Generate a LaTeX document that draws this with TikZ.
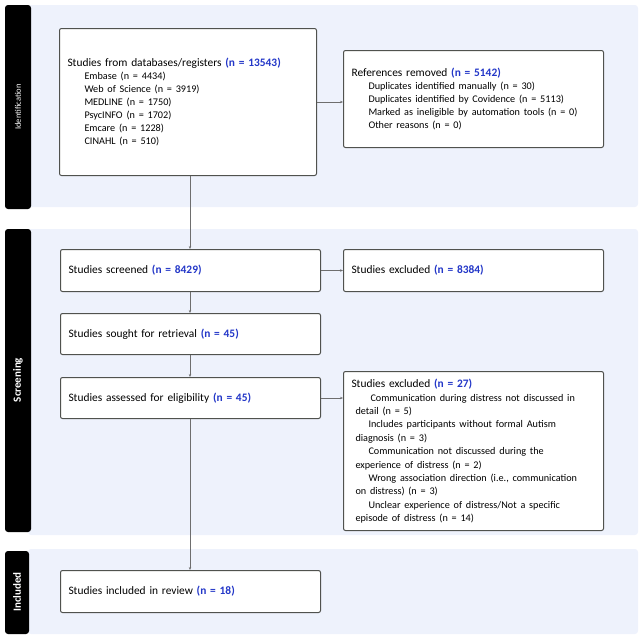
\documentclass[tikz,border=0pt]{standalone}
\usepackage{fontspec}
\setmainfont{Carlito}
\usepackage{tikz}
\usetikzlibrary{arrows.meta,positioning}
\definecolor{prisblue}{RGB}{35,55,200}
\definecolor{panelbg}{RGB}{238,242,252}
\definecolor{boxline}{RGB}{80,82,78}
\definecolor{linkgray}{RGB}{110,110,110}
\newcommand{\cnt}[1]{\textcolor{prisblue}{\textbf{(n = #1)}}}
\newcommand{\ind}{\hspace*{17pt}}
\newcommand{\subitems}{\fontsize{10.2}{13}\selectfont}

\begin{document}
\begin{tikzpicture}[x=1pt,y=-1pt,>={Stealth[length=3pt,width=2.4pt]},
  every node/.style={font=\fontsize{11.4}{13}\selectfont},
  panel/.style={fill=panelbg,rounded corners=3pt},
  bar/.style={fill=black,rounded corners=3pt},
  barlabel/.style={text=white,rotate=90},
  box/.style={draw=boxline,line width=1pt,fill=white,rounded corners=2pt,anchor=north west,align=left,inner xsep=8pt},
  link/.style={draw=linkgray,line width=0.8pt,->}]
\useasboundingbox (0,0) rectangle (644,637);
% phase panels
\fill[panel] (28,5) rectangle (638,207);
\fill[panel] (28,229) rectangle (638,535);
\fill[panel] (28,549) rectangle (638,634);
\fill[bar] (5,5) rectangle (31,209);
\fill[bar] (5,229) rectangle (31,532);
\fill[bar] (5,551) rectangle (29,634);
\node[barlabel,font=\fontsize{8.5}{9}\selectfont] (idlab) at (18,107) {Identification};
\node[barlabel,font=\fontsize{11}{12}\selectfont\bfseries] (scrlab) at (18,380) {Screening};
\node[barlabel,font=\fontsize{11}{12}\selectfont\bfseries] (inclab) at (17,592) {Included};
% boxes
\node[box,text width=241pt,minimum height=147pt] (db) at (59,28) {Studies from databases/registers \cnt{13543}\\
\subitems\ind Embase (n = 4434)\\
\ind Web of Science (n = 3919)\\
\ind MEDLINE (n = 1750)\\
\ind PsycINFO (n = 1702)\\
\ind Emcare (n = 1228)\\
\ind CINAHL (n = 510)};
\node[box,text width=244pt,minimum height=97pt] (removed) at (343,50) {References removed \cnt{5142}\\
\subitems\ind Duplicates identified manually (n = 30)\\
\ind Duplicates identified by Covidence (n = 5113)\\
\ind Marked as ineligible by automation tools (n = 0)\\
\ind Other reasons (n = 0)};
\node[box,text width=244pt,minimum height=42pt] (screened) at (60,249) {Studies screened \cnt{8429}};
\node[box,text width=244pt,minimum height=42pt] (excl1) at (343,249) {Studies excluded \cnt{8384}};
\node[box,text width=244pt,minimum height=41pt] (sought) at (60,313) {Studies sought for retrieval \cnt{45}};
\node[box,text width=244pt,minimum height=41pt] (assessed) at (60,377) {Studies assessed for eligibility \cnt{45}};
\node[box,text width=244pt,minimum height=159pt] (excl2) at (343,371) {Studies excluded \cnt{27}\\
\fontsize{10.2}{13.4}\selectfont
\hspace*{19pt}Communication during distress not discussed in\\
\hspace*{4pt}detail (n = 5)\\
\hspace*{17pt}Includes participants without formal Autism\\
\hspace*{4pt}diagnosis (n = 3)\\
\hspace*{17pt}Communication not discussed during the\\
\hspace*{4pt}experience of distress (n = 2)\\
\hspace*{17pt}Wrong association direction (i.e., communication\\
\hspace*{4pt}on distress) (n = 3)\\
\hspace*{17pt}Unclear experience of distress/Not a specific\\
\hspace*{4pt}episode of distress (n = 14)};
\node[box,text width=244pt,minimum height=42pt] (incl) at (60,570) {Studies included in review \cnt{18}};
% connectors
\draw[link] (db.south -| 190,0) -- (screened.north -| 190,0);
\draw[link] (screened.south -| 190,0) -- (sought.north -| 190,0);
\draw[link] (sought.south -| 190,0) -- (assessed.north -| 190,0);
\draw[link] (assessed.south -| 190,0) -- (incl.north -| 190,0);
\draw[link] (db.east) -- (db.east -| removed.west);
\draw[link] (screened.east) -- (excl1.west);
\draw[link] (assessed.east) -- (assessed.east -| excl2.west);
\end{tikzpicture}
\end{document}
